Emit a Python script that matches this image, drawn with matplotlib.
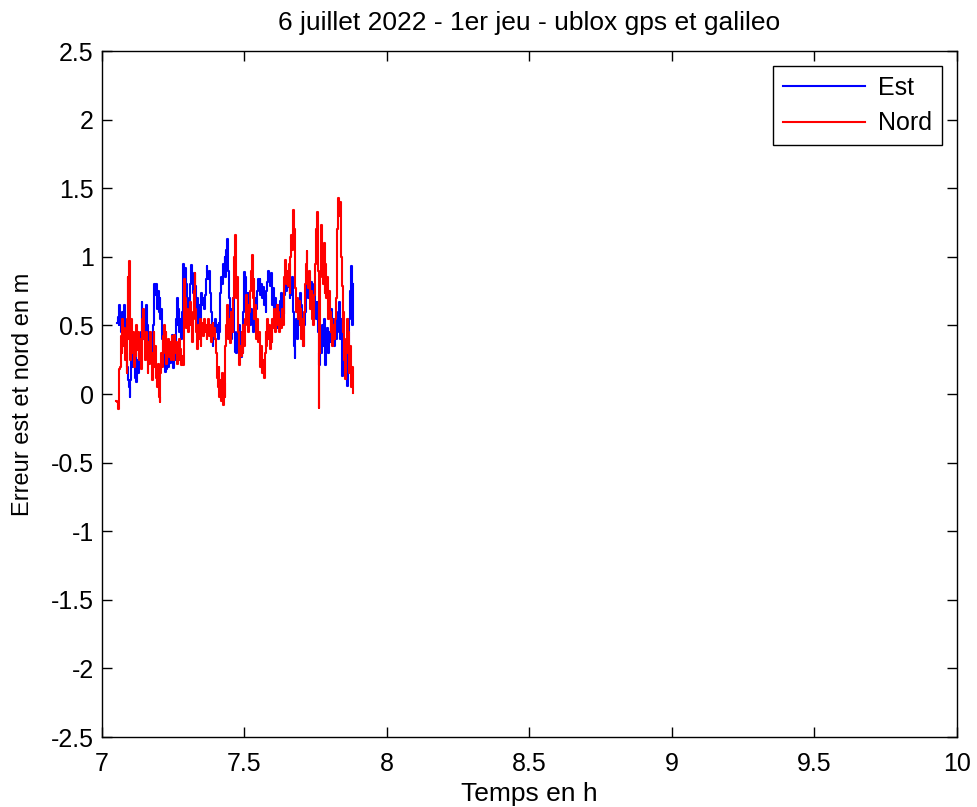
import matplotlib
matplotlib.use('Agg')
from matplotlib import pyplot as plt

plt.rcParams['font.family'] = ['Liberation Sans', 'DejaVu Sans']

# Est error: time (h) / error (m)
est_t = [7.053, 7.056, 7.058, 7.061, 7.064, 7.067, 7.070, 7.073, 7.076, 7.079,
         7.082, 7.085, 7.088, 7.091, 7.094, 7.097, 7.100, 7.103, 7.106, 7.109,
         7.112, 7.115, 7.118, 7.121, 7.124, 7.127, 7.130, 7.133, 7.136, 7.139,
         7.142, 7.145, 7.148, 7.151, 7.154, 7.157, 7.160, 7.163, 7.166, 7.169,
         7.172, 7.175, 7.178, 7.181, 7.184, 7.187, 7.190, 7.193, 7.196, 7.199,
         7.202, 7.205, 7.208, 7.211, 7.214, 7.217, 7.220, 7.223, 7.226, 7.229,
         7.232, 7.235, 7.238, 7.241, 7.244, 7.247, 7.250, 7.253, 7.256, 7.259,
         7.262, 7.265, 7.268, 7.271, 7.274, 7.277, 7.280, 7.283, 7.286, 7.289,
         7.292, 7.295, 7.298, 7.301, 7.304, 7.307, 7.310, 7.313, 7.316, 7.319,
         7.322, 7.325, 7.328, 7.331, 7.334, 7.337, 7.340, 7.343, 7.346, 7.349,
         7.352, 7.355, 7.358, 7.361, 7.364, 7.367, 7.370, 7.373, 7.376, 7.379,
         7.382, 7.385, 7.388, 7.391, 7.394, 7.397, 7.400, 7.403, 7.406, 7.409,
         7.412, 7.415, 7.418, 7.421, 7.424, 7.427, 7.430, 7.433, 7.436, 7.439,
         7.442, 7.445, 7.448, 7.451, 7.454, 7.457, 7.460, 7.463, 7.466, 7.469,
         7.472, 7.475, 7.478, 7.481, 7.484, 7.487, 7.490, 7.493, 7.496, 7.499,
         7.502, 7.505, 7.508, 7.511, 7.514, 7.517, 7.520, 7.523, 7.526, 7.529,
         7.532, 7.535, 7.538, 7.541, 7.544, 7.547, 7.550, 7.553, 7.556, 7.559,
         7.562, 7.565, 7.568, 7.571, 7.574, 7.577, 7.580, 7.583, 7.586, 7.589,
         7.592, 7.595, 7.598, 7.601, 7.604, 7.607, 7.610, 7.613, 7.616, 7.619,
         7.622, 7.625, 7.628, 7.631, 7.634, 7.637, 7.640, 7.643, 7.646, 7.649,
         7.652, 7.655, 7.658, 7.661, 7.664, 7.667, 7.670, 7.673, 7.676, 7.679,
         7.682, 7.685, 7.688, 7.691, 7.694, 7.697, 7.700, 7.703, 7.706, 7.709,
         7.712, 7.715, 7.718, 7.721, 7.724, 7.727, 7.730, 7.733, 7.736, 7.739,
         7.742, 7.745, 7.748, 7.751, 7.754, 7.757, 7.760, 7.763, 7.766, 7.769,
         7.772, 7.775, 7.778, 7.781, 7.784, 7.787, 7.790, 7.793, 7.796, 7.799,
         7.802, 7.805, 7.808, 7.811, 7.814, 7.817, 7.820, 7.823, 7.826, 7.829,
         7.832, 7.835, 7.838, 7.841, 7.844, 7.847, 7.850, 7.853, 7.856, 7.859,
         7.862, 7.865, 7.868, 7.871, 7.874, 7.877, 7.880]
est_v = [0.52, 0.56, 0.50, 0.65, 0.55, 0.45, 0.60, 0.48, 0.65, 0.55,
         0.43, 0.30, 0.20, 0.10, 0.05, -0.02, 0.10, 0.30, 0.20, 0.38,
         0.25, 0.12, 0.30, 0.09, 0.25, 0.15, 0.35, 0.20, 0.45, 0.67,
         0.55, 0.40, 0.60, 0.45, 0.65, 0.50, 0.35, 0.45, 0.30, 0.40,
         0.26, 0.35, 0.50, 0.65, 0.80, 0.72, 0.80, 0.62, 0.75, 0.60,
         0.70, 0.55, 0.62, 0.40, 0.26, 0.35, 0.16, 0.25, 0.18, 0.28,
         0.20, 0.32, 0.23, 0.38, 0.25, 0.43, 0.19, 0.35, 0.25, 0.55,
         0.70, 0.50, 0.62, 0.45, 0.55, 0.40, 0.60, 0.79, 0.95, 0.85,
         0.92, 0.80, 0.70, 0.55, 0.68, 0.60, 0.80, 0.94, 0.85, 0.74,
         0.88, 0.70, 0.79, 0.60, 0.70, 0.50, 0.65, 0.55, 0.62, 0.74,
         0.65, 0.70, 0.62, 0.72, 0.84, 0.93, 0.88, 0.84, 0.90, 0.74,
         0.60, 0.45, 0.35, 0.50, 0.40, 0.55, 0.45, 0.50, 0.40, 0.52,
         0.45, 0.74, 0.85, 0.80, 0.95, 0.90, 1.00, 0.85, 1.05, 1.13,
         0.90, 0.70, 0.55, 0.62, 0.40, 0.55, 0.70, 0.45, 0.31, 0.40,
         0.30, 0.45, 0.35, 0.50, 0.38, 0.27, 0.35, 0.30, 0.60, 0.89,
         0.85, 0.70, 0.60, 0.74, 0.55, 0.65, 0.50, 0.62, 0.55, 0.45,
         0.60, 0.52, 0.70, 0.62, 0.75, 0.84, 0.76, 0.84, 0.72, 0.80,
         0.70, 0.78, 0.65, 0.72, 0.60, 0.75, 0.82, 0.90, 0.85, 0.79,
         0.88, 0.80, 0.65, 0.77, 0.62, 0.70, 0.55, 0.65, 0.48, 0.62,
         0.55, 0.68, 0.74, 0.60, 0.70, 0.58, 0.72, 0.85, 0.75, 0.89,
         0.78, 0.84, 0.70, 0.80, 0.72, 0.85, 0.60, 0.35, 0.26, 0.45,
         0.55, 0.40, 0.62, 0.50, 0.74, 0.55, 0.65, 0.45, 0.35, 0.50,
         0.60, 0.75, 0.87, 0.80, 0.70, 0.85, 0.75, 0.82, 0.67, 0.78,
         0.70, 0.80, 0.67, 0.55, 0.67, 0.45, 0.30, 0.21, 0.40, 0.30,
         0.50, 0.35, 0.55, 0.40, 0.21, 0.35, 0.48, 0.30, 0.45, 0.38,
         0.50, 0.62, 0.45, 0.55, 0.35, 0.48, 0.40, 0.55, 0.45, 0.60,
         0.67, 0.40, 0.55, 0.13, 0.30, 0.20, 0.38, 0.15, 0.30, 0.06,
         0.20, 0.15, 0.55, 0.75, 0.93, 0.50, 0.80]

# Nord error: time (h) / error (m)
nord_t = [7.050, 7.053, 7.055, 7.058, 7.060, 7.064, 7.066, 7.069, 7.071, 7.074,
          7.077, 7.080, 7.083, 7.086, 7.089, 7.091, 7.093, 7.095, 7.098, 7.100,
          7.103, 7.106, 7.109, 7.112, 7.115, 7.118, 7.121, 7.124, 7.127, 7.130,
          7.133, 7.136, 7.139, 7.142, 7.145, 7.148, 7.151, 7.154, 7.157, 7.160,
          7.163, 7.166, 7.169, 7.172, 7.175, 7.178, 7.181, 7.184, 7.187, 7.190,
          7.193, 7.196, 7.199, 7.202, 7.205, 7.208, 7.211, 7.214, 7.217, 7.220,
          7.223, 7.226, 7.229, 7.232, 7.235, 7.238, 7.241, 7.244, 7.248, 7.251,
          7.254, 7.257, 7.260, 7.263, 7.266, 7.269, 7.272, 7.275, 7.278, 7.281,
          7.284, 7.287, 7.290, 7.293, 7.296, 7.299, 7.302, 7.305, 7.308, 7.311,
          7.314, 7.317, 7.320, 7.323, 7.325, 7.328, 7.331, 7.334, 7.337, 7.340,
          7.343, 7.346, 7.349, 7.352, 7.355, 7.358, 7.361, 7.364, 7.367, 7.370,
          7.373, 7.376, 7.379, 7.382, 7.385, 7.388, 7.391, 7.394, 7.397, 7.400,
          7.403, 7.406, 7.409, 7.412, 7.415, 7.418, 7.421, 7.424, 7.427, 7.430,
          7.433, 7.436, 7.439, 7.442, 7.445, 7.448, 7.451, 7.454, 7.457, 7.460,
          7.463, 7.466, 7.469, 7.472, 7.475, 7.478, 7.481, 7.484, 7.487, 7.490,
          7.493, 7.496, 7.499, 7.502, 7.505, 7.508, 7.511, 7.514, 7.517, 7.520,
          7.523, 7.526, 7.529, 7.532, 7.535, 7.538, 7.541, 7.544, 7.547, 7.550,
          7.553, 7.556, 7.559, 7.562, 7.565, 7.568, 7.571, 7.574, 7.577, 7.580,
          7.583, 7.586, 7.589, 7.592, 7.595, 7.598, 7.601, 7.604, 7.607, 7.610,
          7.613, 7.616, 7.619, 7.622, 7.625, 7.628, 7.631, 7.634, 7.637, 7.640,
          7.643, 7.646, 7.649, 7.652, 7.655, 7.658, 7.661, 7.664, 7.667, 7.670,
          7.673, 7.676, 7.679, 7.682, 7.685, 7.688, 7.691, 7.694, 7.697, 7.700,
          7.703, 7.706, 7.709, 7.712, 7.715, 7.718, 7.721, 7.724, 7.727, 7.730,
          7.733, 7.736, 7.739, 7.742, 7.745, 7.748, 7.751, 7.754, 7.757, 7.760,
          7.763, 7.766, 7.769, 7.772, 7.775, 7.778, 7.781, 7.784, 7.787, 7.790,
          7.793, 7.796, 7.799, 7.802, 7.805, 7.808, 7.811, 7.814, 7.817, 7.820,
          7.823, 7.826, 7.829, 7.832, 7.835, 7.838, 7.841, 7.844, 7.847, 7.850,
          7.853, 7.856, 7.859, 7.862, 7.865, 7.868, 7.871, 7.874, 7.877, 7.880]
nord_v = [-0.05, -0.06, -0.11, -0.08, 0.18, 0.20, 0.42, 0.30, 0.55, 0.35,
          0.48, 0.25, 0.40, 0.15, 0.55, 0.85, 0.40, 0.97, 0.60, 0.25,
          0.55, 0.30, 0.45, 0.20, 0.38, 0.28, 0.50, 0.32, 0.45, 0.25,
          0.40, 0.18, 0.35, 0.55, 0.62, 0.40, 0.25, 0.45, 0.30, 0.15,
          0.38, 0.22, 0.45, 0.30, 0.10, 0.30, 0.45, 0.20, 0.35, 0.12,
          0.05, 0.22, -0.02, -0.06, 0.15, 0.30, 0.20, 0.42, 0.50, 0.30,
          0.45, 0.22, 0.35, 0.40, 0.27, 0.38, 0.25, 0.42, 0.40, 0.25,
          0.43, 0.30, 0.38, 0.22, 0.35, 0.40, 0.25, 0.33, 0.21, 0.28,
          0.21, 0.84, 0.60, 0.70, 0.48, 0.62, 0.45, 0.55, 0.67, 0.50,
          0.60, 0.38, 0.55, 0.75, 0.88, 0.62, 0.45, 0.33, 0.50, 0.40,
          0.55, 0.35, 0.45, 0.52, 0.42, 0.55, 0.45, 0.50, 0.40, 0.48,
          0.55, 0.42, 0.50, 0.38, 0.47, 0.52, 0.42, 0.48, 0.40, 0.30,
          0.12, 0.05, 0.20, -0.02, 0.10, -0.05, 0.15, -0.08, 0.08, -0.02,
          0.35, 0.50, 0.65, 0.40, 0.55, 0.37, 0.48, 0.60, 0.45, 0.70,
          1.00, 1.16, 0.90, 0.70, 0.85, 0.45, 0.21, 0.35, 0.28, 0.45,
          0.30, 0.50, 0.35, 0.55, 0.72, 0.50, 0.65, 0.45, 0.60, 0.75,
          0.90, 1.01, 0.70, 0.84, 0.55, 0.65, 0.40, 0.55, 0.38, 0.45,
          0.30, 0.20, 0.35, 0.15, 0.25, 0.12, 0.30, 0.45, 0.35, 0.55,
          0.40, 0.50, 0.33, 0.45, 0.38, 0.55, 0.48, 0.62, 0.45, 0.58,
          0.65, 0.50, 0.60, 0.45, 0.55, 0.48, 0.62, 0.50, 0.70, 0.85,
          0.98, 0.80, 0.90, 0.79, 0.95, 0.74, 1.00, 1.16, 1.05, 1.34,
          1.20, 0.95, 0.77, 0.60, 0.70, 0.55, 0.68, 0.50, 0.62, 0.40,
          0.55, 0.35, 0.60, 0.80, 0.95, 1.04, 0.85, 0.77, 0.90, 0.62,
          0.75, 0.55, 0.68, 0.50, 0.72, 0.95, 1.20, 1.33, 0.90, -0.10,
          0.30, 0.85, 1.23, 1.05, 0.80, 1.10, 0.74, 0.95, 0.70, 0.85,
          0.55, 0.75, 0.60, 0.45, 0.55, 0.35, 0.50, 0.40, 0.55, 0.70,
          0.90, 1.20, 1.43, 1.30, 1.40, 1.00, 0.79, 0.45, 0.60, 0.25,
          0.11, 0.40, 0.55, 0.30, 0.45, 0.15, 0.35, 0.05, 0.20, 0.01]

fig = plt.figure(figsize=(9.77, 8.07), dpi=100)
ax = fig.add_axes([0.1044, 0.0867, 0.875, 0.850])

ax.plot(est_t, est_v, color='blue', lw=1.5, label='Est', drawstyle='steps-post')
ax.plot(nord_t, nord_v, color='red', lw=1.5, label='Nord', drawstyle='steps-post')

ax.set_xlim(7, 10)
ax.set_ylim(-2.5, 2.5)
ax.set_xticks([7, 7.5, 8, 8.5, 9, 9.5, 10])
ax.set_xticklabels(['7', '7.5', '8', '8.5', '9', '9.5', '10'])
ax.set_yticks([-2.5, -2, -1.5, -1, -0.5, 0, 0.5, 1, 1.5, 2, 2.5])
ax.set_yticklabels(['-2.5', '-2', '-1.5', '-1', '-0.5', '0', '0.5', '1',
                    '1.5', '2', '2.5'])
ax.tick_params(axis='both', direction='in', length=7, width=1, labelsize=18,
               top=True, right=True, pad=6)
ax.tick_params(axis='x', pad=11)
for s in ax.spines.values():
    s.set_linewidth(1)

ax.set_title('6 juillet 2022 - 1er jeu - ublox gps et galileo', fontsize=19, pad=15)
ax.set_xlabel('Temps en h', fontsize=19, labelpad=4)
ax.set_ylabel('Erreur est et nord en m', fontsize=17, labelpad=12)

leg = ax.legend(loc='upper right', fontsize=18, handlelength=3.3,
                fancybox=False, edgecolor='black', framealpha=1,
                borderaxespad=0.6, labelspacing=0.45, handletextpad=0.5)
leg.get_frame().set_linewidth(1)

fig.savefig('out.png', dpi=100)
